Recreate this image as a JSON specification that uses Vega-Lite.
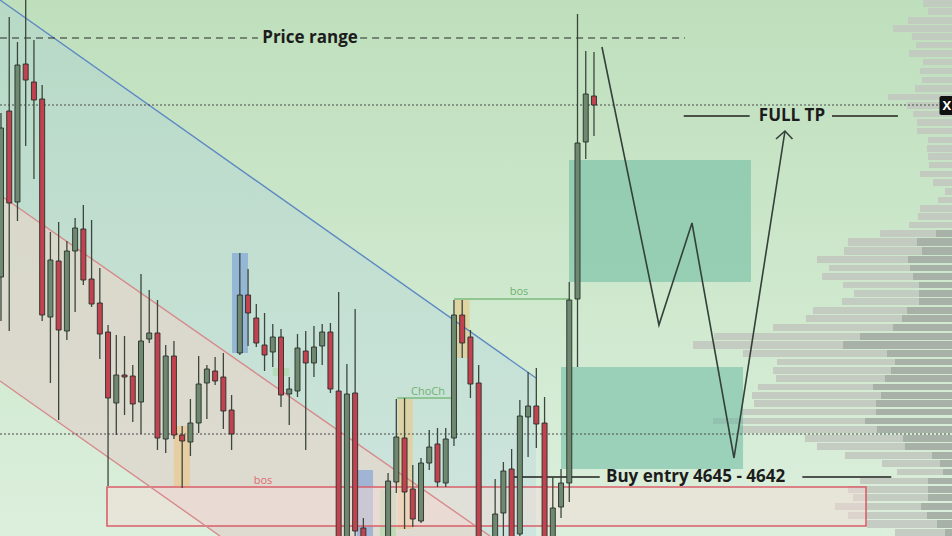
{
  "$schema": "https://vega.github.io/schema/vega-lite/v6.json",
  "width": 952,
  "height": 536,
  "autosize": {"type": "none"},
  "padding": 0,
  "background": "#cfe7ce",
  "config": {"view": {"stroke": null}},
  "resolve": {"scale": {"color": "independent"}},
  "datasets": {
    "candles": [
      {"x":0,"o":4666.0,"h":4682.4,"l":4661.6,"c":4680.9},
      {"x":1,"o":4682.6,"h":4692.0,"l":4660.6,"c":4673.4},
      {"x":2,"o":4673.5,"h":4689.5,"l":4671.6,"c":4687.2},
      {"x":3,"o":4687.3,"h":4694.5,"l":4679.1,"c":4685.7},
      {"x":4,"o":4685.5,"h":4689.7,"l":4675.8,"c":4683.7},
      {"x":5,"o":4683.8,"h":4685.2,"l":4661.6,"c":4662.2},
      {"x":6,"o":4662.0,"h":4670.5,"l":4655.4,"c":4667.7},
      {"x":7,"o":4667.6,"h":4671.5,"l":4651.7,"c":4660.7},
      {"x":8,"o":4660.6,"h":4669.6,"l":4659.7,"c":4668.6},
      {"x":9,"o":4668.6,"h":4671.9,"l":4662.5,"c":4670.9},
      {"x":10,"o":4670.8,"h":4673.2,"l":4665.2,"c":4665.7},
      {"x":11,"o":4665.8,"h":4671.7,"l":4663.0,"c":4663.3},
      {"x":12,"o":4663.4,"h":4666.9,"l":4657.8,"c":4660.3},
      {"x":13,"o":4660.5,"h":4661.2,"l":4645.1,"c":4653.9},
      {"x":14,"o":4653.4,"h":4660.2,"l":4650.2,"c":4656.2},
      {"x":15,"o":4656.2,"h":4660.1,"l":4652.2,"c":4656.0},
      {"x":16,"o":4656.1,"h":4657.2,"l":4651.5,"c":4653.3},
      {"x":17,"o":4653.5,"h":4666.3,"l":4650.3,"c":4659.6},
      {"x":18,"o":4659.8,"h":4664.7,"l":4659.4,"c":4660.4},
      {"x":19,"o":4660.4,"h":4663.7,"l":4648.7,"c":4649.9},
      {"x":20,"o":4649.8,"h":4659.2,"l":4648.4,"c":4658.1},
      {"x":21,"o":4658.1,"h":4659.6,"l":4649.8,"c":4650.2},
      {"x":22,"o":4650.2,"h":4651.1,"l":4644.9,"c":4649.6},
      {"x":23,"o":4649.5,"h":4653.8,"l":4648.1,"c":4651.4},
      {"x":24,"o":4651.4,"h":4658.1,"l":4650.4,"c":4655.3},
      {"x":25,"o":4655.4,"h":4657.2,"l":4651.8,"c":4656.8},
      {"x":26,"o":4656.6,"h":4658.0,"l":4655.2,"c":4655.6},
      {"x":27,"o":4656.0,"h":4658.4,"l":4650.8,"c":4652.6},
      {"x":28,"o":4652.7,"h":4654.2,"l":4648.7,"c":4650.3},
      {"x":29,"o":4658.4,"h":4668.4,"l":4658.2,"c":4664.2},
      {"x":30,"o":4664.2,"h":4666.8,"l":4659.1,"c":4662.4},
      {"x":31,"o":4661.9,"h":4663.3,"l":4659.0,"c":4659.4},
      {"x":32,"o":4659.2,"h":4662.4,"l":4656.6,"c":4658.2},
      {"x":33,"o":4658.5,"h":4661.3,"l":4657.0,"c":4660.0},
      {"x":34,"o":4660.0,"h":4660.8,"l":4653.0,"c":4654.2},
      {"x":35,"o":4654.3,"h":4656.0,"l":4651.2,"c":4654.8},
      {"x":36,"o":4654.6,"h":4660.3,"l":4654.0,"c":4658.9},
      {"x":37,"o":4658.6,"h":4660.6,"l":4648.7,"c":4657.4},
      {"x":38,"o":4657.4,"h":4661.1,"l":4656.0,"c":4659.0},
      {"x":39,"o":4659.1,"h":4661.3,"l":4657.2,"c":4660.5},
      {"x":40,"o":4660.5,"h":4661.4,"l":4654.4,"c":4654.8},
      {"x":41,"o":4654.6,"h":4664.5,"l":4635.7,"c":4637.7},
      {"x":42,"o":4637.7,"h":4657.3,"l":4635.7,"c":4654.3},
      {"x":43,"o":4654.4,"h":4662.8,"l":4639.2,"c":4640.6},
      {"x":44,"o":4640.9,"h":4641.9,"l":4635.7,"c":4636.7},
      {"x":47,"o":4639.2,"h":4646.4,"l":4637.7,"c":4645.6},
      {"x":48,"o":4645.5,"h":4653.8,"l":4644.4,"c":4650.0},
      {"x":49,"o":4649.9,"h":4653.9,"l":4640.8,"c":4644.5},
      {"x":50,"o":4644.8,"h":4647.2,"l":4641.0,"c":4641.8},
      {"x":51,"o":4641.6,"h":4647.9,"l":4641.4,"c":4647.4},
      {"x":52,"o":4647.4,"h":4650.7,"l":4646.7,"c":4649.0},
      {"x":53,"o":4649.3,"h":4650.9,"l":4645.0,"c":4645.5},
      {"x":54,"o":4645.4,"h":4650.9,"l":4645.0,"c":4649.8},
      {"x":55,"o":4649.9,"h":4663.7,"l":4649.1,"c":4662.2},
      {"x":56,"o":4662.2,"h":4663.7,"l":4657.9,"c":4659.4},
      {"x":57,"o":4660.0,"h":4660.7,"l":4653.9,"c":4655.3},
      {"x":58,"o":4655.4,"h":4657.2,"l":4635.7,"c":4636.7},
      {"x":60,"o":4636.7,"h":4645.8,"l":4635.7,"c":4642.3},
      {"x":61,"o":4642.4,"h":4647.5,"l":4639.7,"c":4646.6},
      {"x":62,"o":4646.8,"h":4648.8,"l":4635.7,"c":4636.7},
      {"x":63,"o":4640.3,"h":4653.7,"l":4639.2,"c":4652.1},
      {"x":64,"o":4652.0,"h":4656.5,"l":4648.0,"c":4653.1},
      {"x":65,"o":4653.1,"h":4656.9,"l":4648.9,"c":4651.3},
      {"x":66,"o":4651.4,"h":4654.0,"l":4635.7,"c":4636.7},
      {"x":67,"o":4636.7,"h":4646.0,"l":4635.7,"c":4642.9},
      {"x":68,"o":4643.0,"h":4646.8,"l":4641.9,"c":4645.4},
      {"x":69,"o":4645.4,"h":4665.5,"l":4643.5,"c":4663.7},
      {"x":70,"o":4663.8,"h":4692.3,"l":4657.0,"c":4679.4},
      {"x":71,"o":4679.5,"h":4688.6,"l":4677.8,"c":4684.3},
      {"x":72,"o":4684.1,"h":4688.5,"l":4680.1,"c":4683.2}
    ],
    "bluefill": [
      {"x":-0.12,"y":4693.7,"y2":4655.6},
      {"x":26.59,"y":4678.2,"y2":4640.1},
      {"x":64.96,"y":4655.9,"y2":4640.1}
    ],
    "beigefill": [
      {"x":-0.12,"y":4674.2,"y2":4655.6},
      {"x":26.59,"y":4658.9,"y2":4640.1},
      {"x":59.37,"y":4640.1,"y2":4640.1}
    ],
    "profile": [
      {"y":4693.7,"y2":4693.0,"l":111.95,"d":null},
      {"y":4692.9,"y2":4692.2,"l":112.56,"d":null},
      {"y":4692.0,"y2":4691.3,"l":110.13,"d":null},
      {"y":4691.2,"y2":4690.5,"l":108.31,"d":null},
      {"y":4690.4,"y2":4689.7,"l":110.61,"d":null},
      {"y":4689.5,"y2":4688.9,"l":111.10,"d":null},
      {"y":4688.7,"y2":4688.0,"l":110.25,"d":null},
      {"y":4687.8,"y2":4687.2,"l":111.95,"d":null},
      {"y":4686.9,"y2":4686.3,"l":111.58,"d":null},
      {"y":4686.0,"y2":4685.4,"l":111.83,"d":null},
      {"y":4685.2,"y2":4684.5,"l":110.98,"d":null},
      {"y":4684.3,"y2":4683.7,"l":107.70,"d":null},
      {"y":4683.5,"y2":4682.8,"l":110.01,"d":null},
      {"y":4682.6,"y2":4682.0,"l":110.74,"d":null},
      {"y":4681.8,"y2":4681.1,"l":111.22,"d":null},
      {"y":4680.9,"y2":4680.3,"l":111.22,"d":null},
      {"y":4680.0,"y2":4679.4,"l":112.56,"d":null},
      {"y":4679.2,"y2":4678.5,"l":112.43,"d":null},
      {"y":4678.4,"y2":4677.7,"l":112.56,"d":null},
      {"y":4677.5,"y2":4676.9,"l":112.68,"d":null},
      {"y":4676.6,"y2":4676.0,"l":111.58,"d":null},
      {"y":4675.8,"y2":4675.1,"l":113.16,"d":null},
      {"y":4674.9,"y2":4674.2,"l":114.62,"d":null},
      {"y":4674.0,"y2":4673.4,"l":113.77,"d":null},
      {"y":4673.2,"y2":4672.5,"l":111.58,"d":null},
      {"y":4672.4,"y2":4671.7,"l":111.34,"d":null},
      {"y":4671.5,"y2":4670.9,"l":110.25,"d":null},
      {"y":4670.7,"y2":4670.0,"l":106.73,"d":113.53},
      {"y":4669.9,"y2":4669.1,"l":102.84,"d":111.22},
      {"y":4669.0,"y2":4668.2,"l":102.36,"d":111.83},
      {"y":4668.1,"y2":4667.4,"l":99.08,"d":110.13},
      {"y":4667.2,"y2":4666.6,"l":100.54,"d":110.37},
      {"y":4666.4,"y2":4665.7,"l":99.69,"d":110.74},
      {"y":4665.5,"y2":4664.9,"l":102.24,"d":111.46},
      {"y":4664.7,"y2":4664.0,"l":103.57,"d":111.46},
      {"y":4663.9,"y2":4663.2,"l":102.11,"d":111.46},
      {"y":4663.0,"y2":4662.3,"l":98.59,"d":110.01},
      {"y":4662.2,"y2":4661.5,"l":97.74,"d":109.40},
      {"y":4661.3,"y2":4660.6,"l":93.74,"d":108.31},
      {"y":4660.4,"y2":4659.7,"l":86.57,"d":104.30},
      {"y":4659.6,"y2":4658.8,"l":84.02,"d":102.24},
      {"y":4658.7,"y2":4658.0,"l":90.09,"d":107.58},
      {"y":4657.8,"y2":4657.2,"l":94.22,"d":108.55},
      {"y":4657.0,"y2":4656.3,"l":93.74,"d":108.06},
      {"y":4656.2,"y2":4655.5,"l":94.10,"d":107.33},
      {"y":4655.3,"y2":4654.7,"l":91.91,"d":105.88},
      {"y":4654.5,"y2":4653.8,"l":91.19,"d":106.85},
      {"y":4653.7,"y2":4653.0,"l":91.43,"d":106.24},
      {"y":4652.8,"y2":4652.2,"l":89.97,"d":106.24},
      {"y":4651.9,"y2":4651.3,"l":86.45,"d":104.91},
      {"y":4651.1,"y2":4650.4,"l":89.49,"d":106.36},
      {"y":4650.2,"y2":4649.5,"l":97.62,"d":109.52},
      {"y":4649.4,"y2":4648.7,"l":99.08,"d":109.76},
      {"y":4648.5,"y2":4647.8,"l":102.48,"d":113.04},
      {"y":4647.7,"y2":4647.0,"l":106.97,"d":114.01},
      {"y":4646.8,"y2":4646.2,"l":108.79,"d":114.38},
      {"y":4645.9,"y2":4645.3,"l":104.30,"d":112.56},
      {"y":4645.1,"y2":4644.4,"l":102.84,"d":112.56},
      {"y":4644.3,"y2":4643.6,"l":103.45,"d":112.56},
      {"y":4643.4,"y2":4642.7,"l":101.26,"d":111.71},
      {"y":4642.5,"y2":4641.8,"l":102.84,"d":112.43},
      {"y":4641.7,"y2":4640.9,"l":105.15,"d":113.65},
      {"y":4640.8,"y2":4640.1,"l":108.55,"d":114.62}
    ],
    "zones": [
      {"x":68.97,"x2":91.06,"y":4677.7,"y2":4665.5,"k":"zone"},
      {"x":68.0,"x2":90.1,"y":4657.0,"y2":4646.8,"k":"zone"},
      {"x":21.0,"x2":22.95,"y":4651.1,"y2":4644.9,"k":"ob"},
      {"x":55.0,"x2":56.9,"y":4663.7,"y2":4657.9,"k":"ob"},
      {"x":48.2,"x2":50.0,"y":4653.8,"y2":4640.8,"k":"ob"},
      {"x":28.05,"x2":29.99,"y":4668.4,"y2":4658.4,"k":"fvg"},
      {"x":43.2,"x2":45.17,"y":4646.7,"y2":4640.1,"k":"fvg"},
      {"x":46.0,"x2":47.96,"y":4644.7,"y2":4640.1,"k":"lg"},
      {"x":33.0,"x2":35.0,"y":4656.9,"y2":4656.1,"k":"lg"}
    ],
    "segs": [
      {"x":-0.12,"y":4693.7,"x2":64.96,"y2":4655.9,"k":"blue"},
      {"x":-0.12,"y":4674.2,"x2":59.37,"y2":4640.1,"k":"red"},
      {"x":-0.12,"y":4655.6,"x2":26.59,"y2":4640.1,"k":"red"},
      {"x":82.9,"y":4682.1,"x2":90.9,"y2":4682.1,"k":"black"},
      {"x":100.9,"y":4682.1,"x2":108.9,"y2":4682.1,"k":"black"},
      {"x":62.2,"y":4646.0,"x2":72.7,"y2":4646.0,"k":"black"},
      {"x":97.3,"y":4646.0,"x2":108.1,"y2":4646.0,"k":"black"},
      {"x":55.0,"y":4663.8,"x2":69.0,"y2":4663.8,"k":"green"},
      {"x":48.1,"y":4653.9,"x2":55.0,"y2":4653.9,"k":"green"}
    ],
    "dashed": [
      {"x":-0.12,"y":4689.9,"x2":31.2,"y2":4689.9},
      {"x":43.6,"y":4689.9,"x2":83.05,"y2":4689.9}
    ],
    "dotted": [
      {"x":-0.12,"y":4683.2,"x2":113.9,"y2":4683.2},
      {"x":-0.12,"y":4650.3,"x2":115.47,"y2":4650.3}
    ],
    "path": [
      {"x":72.97,"y":4689.0,"o":0,"g":"a"},
      {"x":79.89,"y":4661.2,"o":1,"g":"a"},
      {"x":83.9,"y":4671.4,"o":2,"g":"a"},
      {"x":89.0,"y":4647.9,"o":3,"g":"a"},
      {"x":95.19,"y":4680.6,"o":4,"g":"a"},
      {"x":94.1,"y":4679.8,"o":0,"g":"b"},
      {"x":95.19,"y":4680.6,"o":1,"g":"b"},
      {"x":96.1,"y":4679.8,"o":2,"g":"b"}
    ],
    "centertext": [
      {"x":37.52,"y":4689.9,"t":"Price range"},
      {"x":96.04,"y":4682.15,"t":"FULL TP"}
    ],
    "lefttext": [
      {"x":73.46,"y":4646.0,"t":"Buy entry 4645 - 4642"}
    ],
    "greentext": [
      {"x":62.9,"y":4664.5,"t":"bos"},
      {"x":51.85,"y":4654.5,"t":"ChoCh"}
    ],
    "redtext": [
      {"x":31.81,"y":4645.6,"t":"bos"}
    ]
  },
  "layer": [
    {
      "data": {"values": [{"x":-0.12,"x2":115.47,"y":4693.7,"y2":4640.1}]},
      "mark": {"type":"rect","fill":{"gradient":"linear","x1":0,"y1":0,"x2":0,"y2":1,"stops":[{"offset":0,"color":"#bedfbc"},{"offset":0.6,"color":"#d0e9cf"},{"offset":1,"color":"#dcefdd"}]}},
      "encoding": {
        "x": {"field":"x","type":"quantitative","scale":{"domain":[-0.12,115.47],"nice":false,"zero":false,"padding":0},"axis":null},
        "x2": {"field":"x2"},
        "y": {"field":"y","type":"quantitative","scale":{"domain":[4640.1,4693.7],"nice":false,"zero":false,"padding":0},"axis":null},
        "y2": {"field":"y2"}
      }
    },
    {
      "data": {"name":"bluefill"},
      "mark": {"type":"area","orient":"vertical","fill":"#a2c8e2","opacity":0.25,"clip":true},
      "encoding": {
        "x": {"field":"x","type":"quantitative","scale":{"domain":[-0.12,115.47],"nice":false,"zero":false,"padding":0},"axis":null},
        "y": {"field":"y","type":"quantitative","scale":{"domain":[4640.1,4693.7],"nice":false,"zero":false,"padding":0},"axis":null},
        "y2": {"field":"y2"}
      }
    },
    {
      "data": {"name":"beigefill"},
      "mark": {"type":"area","orient":"vertical","fill":"#ecd3c6","opacity":0.55,"clip":true},
      "encoding": {
        "x": {"field":"x","type":"quantitative","scale":{"domain":[-0.12,115.47],"nice":false,"zero":false,"padding":0},"axis":null},
        "y": {"field":"y","type":"quantitative","scale":{"domain":[4640.1,4693.7],"nice":false,"zero":false,"padding":0},"axis":null},
        "y2": {"field":"y2"}
      }
    },
    {
      "data": {"name":"profile"},
      "mark": {"type":"rect","fill":"#c2c9c0","opacity":0.92,"clip":true},
      "encoding": {
        "x": {"field":"l","type":"quantitative","scale":{"domain":[-0.12,115.47],"nice":false,"zero":false,"padding":0},"axis":null},
        "x2": {"datum":115.47},
        "y": {"field":"y","type":"quantitative","scale":{"domain":[4640.1,4693.7],"nice":false,"zero":false,"padding":0},"axis":null},
        "y2": {"field":"y2"}
      }
    },
    {
      "data": {"name":"profile"},
      "transform": [{"filter":"datum.d != null"}],
      "mark": {"type":"rect","fill":"#a7afa5","opacity":0.95,"clip":true},
      "encoding": {
        "x": {"field":"d","type":"quantitative","scale":{"domain":[-0.12,115.47],"nice":false,"zero":false,"padding":0},"axis":null},
        "x2": {"datum":115.47},
        "y": {"field":"y","type":"quantitative","scale":{"domain":[4640.1,4693.7],"nice":false,"zero":false,"padding":0},"axis":null},
        "y2": {"field":"y2"}
      }
    },
    {
      "data": {"name":"zones"},
      "mark": {"type":"rect","clip":true},
      "encoding": {
        "x": {"field":"x","type":"quantitative","scale":{"domain":[-0.12,115.47],"nice":false,"zero":false,"padding":0},"axis":null},
        "x2": {"field":"x2"},
        "y": {"field":"y","type":"quantitative","scale":{"domain":[4640.1,4693.7],"nice":false,"zero":false,"padding":0},"axis":null},
        "y2": {"field":"y2"},
        "color": {"field":"k","type":"nominal","legend":null,"scale":{"domain":["zone","ob","fvg","lg"],"range":["rgba(105,185,160,0.55)","rgba(236,196,125,0.55)","rgba(110,150,215,0.55)","rgba(165,215,160,0.55)"]}}
      }
    },
    {
      "data": {"values": [{"x":12.87,"x2":105.03,"y":4645.0,"y2":4641.1}]},
      "mark": {"type":"rect","fill":"#f4dcd6","fillOpacity":0.5,"stroke":"#d95f69","strokeWidth":1.6},
      "encoding": {
        "x": {"field":"x","type":"quantitative","scale":{"domain":[-0.12,115.47],"nice":false,"zero":false,"padding":0},"axis":null},
        "x2": {"field":"x2"},
        "y": {"field":"y","type":"quantitative","scale":{"domain":[4640.1,4693.7],"nice":false,"zero":false,"padding":0},"axis":null},
        "y2": {"field":"y2"}
      }
    },
    {
      "data": {"name":"segs"},
      "mark": {"type":"rule","strokeWidth":1.4,"clip":true},
      "encoding": {
        "x": {"field":"x","type":"quantitative","scale":{"domain":[-0.12,115.47],"nice":false,"zero":false,"padding":0},"axis":null},
        "x2": {"field":"x2"},
        "y": {"field":"y","type":"quantitative","scale":{"domain":[4640.1,4693.7],"nice":false,"zero":false,"padding":0},"axis":null},
        "y2": {"field":"y2"},
        "color": {"field":"k","type":"nominal","legend":null,"scale":{"domain":["blue","red","black","green"],"range":["#5c88c4","#d68a8c","#1f1f1f","#7cba7c"]}}
      }
    },
    {
      "data": {"name":"dashed"},
      "mark": {"type":"rule","strokeWidth":1.2,"color":"#2a2a2a","strokeDash":[7,5]},
      "encoding": {
        "x": {"field":"x","type":"quantitative","scale":{"domain":[-0.12,115.47],"nice":false,"zero":false,"padding":0},"axis":null},
        "x2": {"field":"x2"},
        "y": {"field":"y","type":"quantitative","scale":{"domain":[4640.1,4693.7],"nice":false,"zero":false,"padding":0},"axis":null},
        "y2": {"field":"y2"}
      }
    },
    {
      "data": {"name":"dotted"},
      "mark": {"type":"rule","strokeWidth":1,"color":"#4a4a4a","strokeDash":[2,2]},
      "encoding": {
        "x": {"field":"x","type":"quantitative","scale":{"domain":[-0.12,115.47],"nice":false,"zero":false,"padding":0},"axis":null},
        "x2": {"field":"x2"},
        "y": {"field":"y","type":"quantitative","scale":{"domain":[4640.1,4693.7],"nice":false,"zero":false,"padding":0},"axis":null},
        "y2": {"field":"y2"}
      }
    },
    {
      "data": {"name":"candles"},
      "mark": {"type":"rule","color":"#3b463c","strokeWidth":1.3,"clip":true},
      "encoding": {
        "x": {"field":"x","type":"quantitative","scale":{"domain":[-0.12,115.47],"nice":false,"zero":false,"padding":0},"axis":null},
        "y": {"field":"h","type":"quantitative","scale":{"domain":[4640.1,4693.7],"nice":false,"zero":false,"padding":0},"axis":null},
        "y2": {"field":"l"}
      }
    },
    {
      "data": {"name":"candles"},
      "mark": {"type":"bar","size":5,"stroke":"#26302a","strokeWidth":0.9,"clip":true},
      "encoding": {
        "x": {"field":"x","type":"quantitative","scale":{"domain":[-0.12,115.47],"nice":false,"zero":false,"padding":0},"axis":null},
        "y": {"field":"o","type":"quantitative","scale":{"domain":[4640.1,4693.7],"nice":false,"zero":false,"padding":0},"axis":null},
        "y2": {"field":"c"},
        "color": {"condition":{"test":"datum.c >= datum.o","value":"#6f8870"},"value":"#c2434f"}
      }
    },
    {
      "data": {"name":"path"},
      "mark": {"type":"line","color":"#34403a","strokeWidth":1.6},
      "encoding": {
        "x": {"field":"x","type":"quantitative","scale":{"domain":[-0.12,115.47],"nice":false,"zero":false,"padding":0},"axis":null},
        "y": {"field":"y","type":"quantitative","scale":{"domain":[4640.1,4693.7],"nice":false,"zero":false,"padding":0},"axis":null},
        "order": {"field":"o","type":"quantitative"},
        "detail": {"field":"g","type":"nominal"}
      }
    },
    {
      "data": {"name":"centertext"},
      "mark": {"type":"text","font":"Open Sans","fontWeight":"bold","fontSize":17,"color":"#1c1c1c","baseline":"middle","align":"center"},
      "encoding": {
        "x": {"field":"x","type":"quantitative","scale":{"domain":[-0.12,115.47],"nice":false,"zero":false,"padding":0},"axis":null},
        "y": {"field":"y","type":"quantitative","scale":{"domain":[4640.1,4693.7],"nice":false,"zero":false,"padding":0},"axis":null},
        "text": {"field":"t"}
      }
    },
    {
      "data": {"name":"lefttext"},
      "mark": {"type":"text","font":"Open Sans","fontWeight":"bold","fontSize":17,"color":"#1c1c1c","baseline":"middle","align":"left"},
      "encoding": {
        "x": {"field":"x","type":"quantitative","scale":{"domain":[-0.12,115.47],"nice":false,"zero":false,"padding":0},"axis":null},
        "y": {"field":"y","type":"quantitative","scale":{"domain":[4640.1,4693.7],"nice":false,"zero":false,"padding":0},"axis":null},
        "text": {"field":"t"}
      }
    },
    {
      "data": {"name":"greentext"},
      "mark": {"type":"text","font":"Open Sans","fontSize":11,"color":"#6fb26f","baseline":"middle","align":"center"},
      "encoding": {
        "x": {"field":"x","type":"quantitative","scale":{"domain":[-0.12,115.47],"nice":false,"zero":false,"padding":0},"axis":null},
        "y": {"field":"y","type":"quantitative","scale":{"domain":[4640.1,4693.7],"nice":false,"zero":false,"padding":0},"axis":null},
        "text": {"field":"t"}
      }
    },
    {
      "data": {"name":"redtext"},
      "mark": {"type":"text","font":"Open Sans","fontSize":11,"color":"#e06a70","baseline":"middle","align":"center"},
      "encoding": {
        "x": {"field":"x","type":"quantitative","scale":{"domain":[-0.12,115.47],"nice":false,"zero":false,"padding":0},"axis":null},
        "y": {"field":"y","type":"quantitative","scale":{"domain":[4640.1,4693.7],"nice":false,"zero":false,"padding":0},"axis":null},
        "text": {"field":"t"}
      }
    },
    {
      "data": {"values": [{"x":113.95,"x2":115.6,"y":4684.1,"y2":4682.2}]},
      "mark": {"type":"rect","fill":"#111111","cornerRadius":2,"clip":true},
      "encoding": {
        "x": {"field":"x","type":"quantitative","scale":{"domain":[-0.12,115.47],"nice":false,"zero":false,"padding":0},"axis":null},
        "x2": {"field":"x2"},
        "y": {"field":"y","type":"quantitative","scale":{"domain":[4640.1,4693.7],"nice":false,"zero":false,"padding":0},"axis":null},
        "y2": {"field":"y2"}
      }
    },
    {
      "data": {"values": [{"x":114.85,"y":4683.15,"t":"X"}]},
      "mark": {"type":"text","font":"Open Sans","fontWeight":"bold","fontSize":13,"color":"#ffffff","baseline":"middle","align":"center"},
      "encoding": {
        "x": {"field":"x","type":"quantitative","scale":{"domain":[-0.12,115.47],"nice":false,"zero":false,"padding":0},"axis":null},
        "y": {"field":"y","type":"quantitative","scale":{"domain":[4640.1,4693.7],"nice":false,"zero":false,"padding":0},"axis":null},
        "text": {"field":"t"}
      }
    }
  ]
}
